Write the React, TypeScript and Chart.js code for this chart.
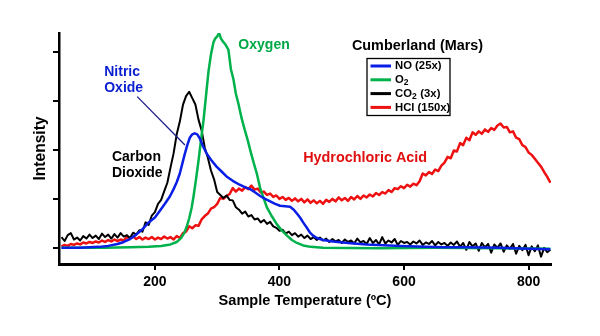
import React, { useEffect, useRef } from 'react';
import { Chart, registerables } from 'chart.js';

Chart.register(...registerables);

const FONT = '"Liberation Sans", Arial, Helvetica, sans-serif';

const xTickValues = [200, 400, 600, 800];
const yTickValues = [0, 1, 2, 3, 4];

// Oxygen (O2) - smooth trace
const o2Temps = [50, 120, 160, 190, 210, 225, 235, 242, 247, 251, 255, 259, 262, 266, 270, 274, 278, 282, 286, 290, 294, 297, 300, 303, 306, 309, 313, 318, 322, 326, 330, 334, 339, 344, 349, 354, 359, 364, 369, 375, 380, 388, 396, 404, 412, 420, 428, 438, 450, 470, 560, 650, 750, 835];
const o2Values = [0, 0, 0.01, 0.02, 0.04, 0.07, 0.12, 0.2, 0.3, 0.43, 0.6, 0.82, 1.05, 1.4, 1.78, 2.2, 2.6, 3.1, 3.6, 3.95, 4.2, 4.28, 4.32, 4.39, 4.28, 4.22, 4.16, 4.05, 3.65, 3.45, 3.15, 2.95, 2.66, 2.42, 2.2, 1.95, 1.72, 1.5, 1.22, 1.0, 0.82, 0.64, 0.48, 0.35, 0.25, 0.16, 0.1, 0.05, 0.02, 0.0, -0.01, 0.0, -0.01, -0.02];

// Nitric oxide (NO x25) - smooth trace
const noTemps = [50, 80, 110, 125, 140, 150, 160, 170, 180, 190, 200, 208, 216, 224, 230, 235, 240, 244, 248, 252, 256, 260, 264, 268, 272, 277, 283, 290, 299, 307, 315, 325, 336, 346, 353, 360, 369, 377, 385, 393, 401, 409, 417, 423, 428, 433, 438, 444, 449, 454, 460, 470, 486, 510, 540, 594, 663, 700, 754, 800, 835];
const noValues = [0, 0, 0.02, 0.04, 0.08, 0.12, 0.18, 0.27, 0.38, 0.52, 0.62, 0.76, 0.9, 1.05, 1.2, 1.34, 1.52, 1.72, 1.92, 2.1, 2.25, 2.32, 2.34, 2.32, 2.24, 2.08, 1.93, 1.8, 1.66, 1.56, 1.46, 1.37, 1.29, 1.23, 1.2, 1.14, 1.06, 1.0, 0.95, 0.9, 0.86, 0.85, 0.84, 0.78, 0.7, 0.62, 0.52, 0.41, 0.31, 0.25, 0.2, 0.16, 0.13, 0.1, 0.07, 0.04, 0.01, 0.01, 0.0, -0.02, -0.03];

// Noisy traces sampled every 5 degrees
const fineTemps = [
  50, 55, 60, 65, 70, 75, 80, 85, 90, 95, 100, 105, 110, 115, 120, 125, 130, 135, 140, 145,
  150, 155, 160, 165, 170, 175, 180, 185, 190, 195, 200, 205, 210, 215, 220, 225, 230, 235, 240, 245,
  250, 255, 260, 265, 270, 275, 280, 285, 290, 295, 300, 305, 310, 315, 320, 325, 330, 335, 340, 345,
  350, 355, 360, 365, 370, 375, 380, 385, 390, 395, 400, 405, 410, 415, 420, 425, 430, 435, 440, 445,
  450, 455, 460, 465, 470, 475, 480, 485, 490, 495, 500, 505, 510, 515, 520, 525, 530, 535, 540, 545,
  550, 555, 560, 565, 570, 575, 580, 585, 590, 595, 600, 605, 610, 615, 620, 625, 630, 635, 640, 645,
  650, 655, 660, 665, 670, 675, 680, 685, 690, 695, 700, 705, 710, 715, 720, 725, 730, 735, 740, 745,
  750, 755, 760, 765, 770, 775, 780, 785, 790, 795, 800, 805, 810, 815, 820, 825, 830, 835,
];

// Carbon dioxide (CO2 x3)
const co2Values = [
  0.22, 0.14, 0.26, 0.3, 0.17, 0.21, 0.15, 0.24, 0.19, 0.27, 0.2, 0.25, 0.18, 0.29, 0.22, 0.27, 0.19, 0.28, 0.21, 0.3,
  0.23, 0.26, 0.2, 0.31, 0.27, 0.36, 0.33, 0.52, 0.47, 0.66, 0.73, 0.9, 0.98, 1.16, 1.33, 1.64, 1.93, 2.32, 2.58, 2.92,
  3.1, 3.19, 3.06, 2.93, 2.62, 2.4, 2.05, 1.84, 1.58, 1.4, 1.14, 1.08, 1.02, 1.07, 0.98, 0.97, 0.83, 0.78, 0.7, 0.74,
  0.64, 0.67, 0.58, 0.6, 0.52, 0.57, 0.49, 0.53, 0.44, 0.41, 0.35, 0.37, 0.29, 0.33, 0.26, 0.3, 0.23, 0.27, 0.2, 0.25,
  0.18, 0.22, 0.16, 0.21, 0.15, 0.19, 0.12, 0.18, 0.13, 0.16, 0.1, 0.17, 0.12, 0.15, 0.09, 0.19, 0.11, 0.14, 0.08, 0.2,
  0.1, 0.16, 0.07, 0.22, 0.09, 0.15, 0.11, 0.18, 0.06, 0.14, 0.1, 0.12, 0.07, 0.13, 0.09, 0.15, 0.06, 0.11, 0.08, 0.14,
  0.05, 0.12, 0.07, 0.1, 0.04, 0.11, 0.06, 0.13, 0.02, 0.1, -0.04, 0.12, 0.03, 0.09, -0.06, 0.1, 0.01, 0.08, -0.1, 0.07,
  0.0, 0.09, -0.08, 0.05, -0.02, 0.08, -0.12, 0.04, -0.05, 0.06, -0.15, 0.03, -0.07, 0.05, -0.18, 0.0, -0.09, -0.04,
];

// Hydrochloric acid (HCl x150)
const hclValues = [
  0.03, 0.06, 0.04, 0.08, 0.06, 0.09, 0.07, 0.11, 0.09, 0.12, 0.1, 0.13, 0.11, 0.15, 0.12, 0.16, 0.13, 0.17, 0.14, 0.17,
  0.15, 0.22, 0.19, 0.23, 0.18, 0.22, 0.17, 0.21, 0.18, 0.22, 0.17, 0.21, 0.18, 0.23, 0.19, 0.22, 0.17, 0.24, 0.2, 0.3,
  0.33, 0.44, 0.4, 0.46, 0.45, 0.58, 0.65, 0.7, 0.8, 0.83, 0.9, 1.02, 1.0, 1.06, 1.1, 1.22, 1.15, 1.21, 1.17, 1.24,
  1.2, 1.27, 1.19, 1.21, 1.13, 1.15, 1.08, 1.11, 1.04, 1.07, 1.0, 1.04, 0.98, 1.02, 0.96, 1.01, 0.95, 1.0, 0.93, 0.99,
  0.92, 0.97, 0.91, 0.96, 0.9, 0.98, 0.94, 1.0, 0.95, 1.03, 0.97, 1.02, 0.96, 1.04, 0.99, 1.06, 1.0, 1.07, 1.03, 1.09,
  1.05, 1.12, 1.08, 1.14, 1.11, 1.18, 1.14, 1.22, 1.2, 1.26, 1.22, 1.29, 1.25, 1.31, 1.28, 1.36, 1.52, 1.48, 1.55, 1.51,
  1.6, 1.57, 1.68, 1.74, 1.86, 1.83, 1.99, 1.97, 2.14, 2.1, 2.25, 2.2, 2.36, 2.31, 2.38, 2.33, 2.42, 2.37, 2.45, 2.41,
  2.5, 2.54, 2.46, 2.47, 2.36, 2.38, 2.25, 2.22, 2.1, 2.06, 1.95, 1.9, 1.82, 1.74, 1.66, 1.55, 1.45, 1.33,
];

const BLUE = '#0a1fe6';
const GREEN = '#00b24c';
const BLACK = '#000000';
const RED = '#ee1111';

const legendTitle = 'Cumberland (Mars)';
const legendRows: { color: string; parts: [string, boolean][] }[] = [
  { color: BLUE, parts: [['NO (25x)', false]] },
  { color: GREEN, parts: [['O', false], ['2', true]] },
  { color: BLACK, parts: [['CO', false], ['2', true], [' (3x)', false]] },
  { color: RED, parts: [['HCl (150x)', false]] },
];

const annotations = [
  { lines: ['Oxygen'], t: 334, v: 4.14, color: '#00a846', size: 14 },
  { lines: ['Nitric', 'Oxide'], t: 118.6, v: 3.6, color: '#0a1fd0', size: 14 },
  { lines: ['Carbon', 'Dioxide'], t: 131, v: 1.86, color: '#000000', size: 14 },
  { lines: ['Hydrochloric Acid'], t: 438, v: 1.83, color: '#e01010', size: 14.4 },
];

const pointerFrom = { t: 171.6, v: 3.09 };
const pointerTo = { t: 248.2, v: 2.1 };

const zip = (xs: number[], ys: number[]) => xs.map((x, i) => ({ x, y: ys[i] }));

const overlayPlugin = {
  id: 'overlay',
  afterDraw(chart: any) {
    const { ctx, chartArea } = chart;
    const xs = chart.scales.x;
    const ys = chart.scales.y;
    const px = (t: number) => xs.getPixelForValue(t);
    const py = (v: number) => ys.getPixelForValue(v);
    ctx.save();

    // pointer line from "Nitric Oxide" to the NO peak
    ctx.strokeStyle = '#1a1a8a';
    ctx.lineWidth = 1.3;
    ctx.beginPath();
    ctx.moveTo(px(pointerFrom.t), py(pointerFrom.v));
    ctx.lineTo(px(pointerTo.t), py(pointerTo.v));
    ctx.stroke();

    // annotation labels
    ctx.textBaseline = 'middle';
    ctx.textAlign = 'left';
    for (const a of annotations) {
      ctx.font = `bold ${a.size}px ${FONT}`;
      ctx.fillStyle = a.color;
      a.lines.forEach((ln, i) => {
        ctx.fillText(ln, px(a.t), py(a.v) + i * 16.6);
      });
    }

    // legend
    const bx = chartArea.left + 308;
    const by = chartArea.top + 25.5;
    const bw = 83;
    const bh = 57;
    ctx.font = `bold 14.4px ${FONT}`;
    ctx.fillStyle = '#000';
    ctx.textAlign = 'center';
    ctx.fillText(legendTitle, bx + 50.5, chartArea.top + 13);

    ctx.fillStyle = '#fff';
    ctx.fillRect(bx, by, bw, bh);
    ctx.strokeStyle = '#000';
    ctx.lineWidth = 1.3;
    ctx.strokeRect(bx, by, bw, bh);

    ctx.textAlign = 'left';
    legendRows.forEach((row, i) => {
      const ry = by + 7.5 + i * 13.8;
      ctx.strokeStyle = row.color;
      ctx.lineWidth = 3;
      ctx.beginPath();
      ctx.moveTo(bx + 3.5, ry);
      ctx.lineTo(bx + 24, ry);
      ctx.stroke();
      let tx = bx + 28;
      ctx.fillStyle = '#000';
      for (const [txt, sub] of row.parts) {
        ctx.font = sub ? `bold 8.5px ${FONT}` : `bold 11.3px ${FONT}`;
        ctx.fillText(txt, tx, ry + (sub ? 3 : 0));
        tx += ctx.measureText(txt).width + (sub ? 0.5 : 0);
      }
    });

    ctx.restore();
  },
};

export default function App() {
  const canvasRef = useRef<HTMLCanvasElement | null>(null);

  useEffect(() => {
    document.body.style.margin = '0';
    const canvas = canvasRef.current;
    if (!canvas) return;
    const tickFont = { family: FONT, size: 14, weight: 'bold' as const };
    const chart = new Chart(canvas, {
      type: 'line',
      data: {
        datasets: [
          { label: 'NO (25x)', data: zip(noTemps, noValues), borderColor: BLUE },
          { label: 'O2', data: zip(o2Temps, o2Values), borderColor: GREEN },
          { label: 'CO2 (3x)', data: zip(fineTemps, co2Values), borderColor: BLACK, borderWidth: 2 },
          { label: 'HCl (150x)', data: zip(fineTemps, hclValues), borderColor: RED },
        ],
      },
      options: {
        animation: false,
        responsive: false,
        maintainAspectRatio: false,
        layout: { padding: { top: 33, right: 49, left: 0, bottom: 0 } },
        plugins: { legend: { display: false }, tooltip: { enabled: false } },
        elements: {
          point: { radius: 0 },
          line: { borderWidth: 2.5, tension: 0, fill: false, borderJoinStyle: 'round' },
        },
        scales: {
          x: {
            type: 'linear',
            min: 46,
            max: 836,
            afterBuildTicks: (s: any) => {
              s.ticks = xTickValues.map((v) => ({ value: v }));
            },
            afterFit: (s: any) => {
              s.height = 72;
            },
            grid: { drawOnChartArea: false, drawTicks: true, tickLength: 6, color: '#000', lineWidth: 2 },
            border: { display: true, color: '#000', width: 3 },
            ticks: { font: tickFont, color: '#000', padding: 4, maxRotation: 0, autoSkip: false },
            title: {
              display: true,
              text: 'Sample Temperature (ºC)',
              font: { family: FONT, size: 14.6, weight: 'bold' },
              color: '#000',
              padding: { top: 0, bottom: 26 },
            },
          },
          y: {
            type: 'linear',
            min: -0.33,
            max: 4.39,
            afterBuildTicks: (s: any) => {
              s.ticks = yTickValues.map((v) => ({ value: v }));
            },
            afterFit: (s: any) => {
              s.width = 59;
            },
            grid: { drawOnChartArea: false, drawTicks: true, tickLength: 6, color: '#000', lineWidth: 2 },
            border: { display: true, color: '#000', width: 2.5 },
            ticks: { display: false },
            title: {
              display: true,
              text: 'Intensity',
              font: { family: FONT, size: 15.6, weight: 'bold' },
              color: '#000',
              padding: { top: 31.5, bottom: 0 },
            },
          },
        },
      },
      plugins: [overlayPlugin],
    });
    return () => chart.destroy();
  }, []);

  return (
    <div style={{ position: 'absolute', left: 0, top: 0, width: 600, height: 336, background: '#fff' }}>
      <canvas ref={canvasRef} width={600} height={336} />
    </div>
  );
}
